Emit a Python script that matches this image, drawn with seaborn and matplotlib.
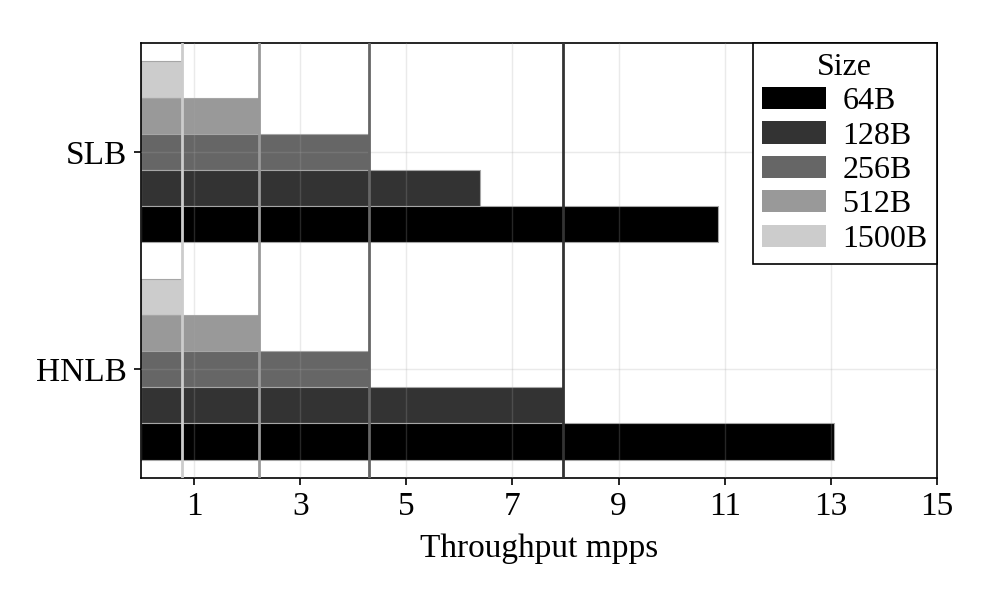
import matplotlib
matplotlib.use("Agg")
import matplotlib.pyplot as plt
import seaborn as sns
import pandas as pd
from matplotlib.patches import Patch

systems = ["SLB", "HNLB"]
sizes = ["64B", "128B", "256B", "512B", "1500B"]
slb_values = [10.88, 6.38, 4.30, 2.22, 0.78]
hnlb_values = [13.06, 7.95, 4.30, 2.22, 0.78]
ref_sizes = ["128B", "256B", "512B", "1500B"]
ref_values = [7.95, 4.29, 2.23, 0.78]
colors = ["#000000", "#333333", "#666666", "#999999", "#cccccc"]
xticks = [1, 3, 5, 7, 9, 11, 13, 15]

rows = []
for s, vals in zip(systems, [slb_values, hnlb_values]):
    for sz, v in zip(sizes, vals):
        rows.append({"System": s, "Size": sz, "Throughput": v})
df = pd.DataFrame(rows)

sns.set_theme(style="white")
plt.rcParams["font.family"] = ["Liberation Serif", "DejaVu Serif"]
plt.rcParams["font.size"] = 24
plt.rcParams["text.color"] = "black"
plt.rcParams["axes.labelcolor"] = "black"
plt.rcParams["xtick.color"] = "black"
plt.rcParams["ytick.color"] = "black"

FS = 24
palette = dict(zip(sizes, colors))
fig = plt.figure(figsize=(9.9, 6.0), dpi=100)
ax = fig.add_axes([141/990, 1-478/600, (937-141)/990, (478-43)/600])

hue_order = sizes[::-1]
sns.barplot(data=df, y="System", x="Throughput", hue="Size", order=systems,
            hue_order=hue_order, palette=palette, orient="h", width=0.83,
            edgecolor="0.65", linewidth=0.8, ax=ax, legend=False, saturation=1)

for sz, v in zip(ref_sizes, ref_values):
    ax.axvline(v, color=palette[sz], lw=2.0, zorder=3)

ax.set_xlim(0, 15)
ax.set_ylim(1.5, -0.5)
ax.set_xticks(xticks)
ax.set_xticklabels([str(t) for t in xticks], fontsize=FS, color="black")
ax.set_yticks([0, 1])
ax.set_yticklabels(systems, fontsize=FS, color="black")
ax.set_xlabel("Throughput mpps", fontsize=FS, labelpad=8, color="black")
ax.set_ylabel("")
ax.set_axisbelow(False)
ax.grid(True, color="0.65", alpha=0.23, lw=1)
ax.tick_params(axis="both", which="major", direction="out", length=5, width=1.2,
               color="black", labelcolor="black", bottom=True, left=True, pad=5)
for sp in ax.spines.values():
    sp.set_color("black")
    sp.set_linewidth(1.2)
    sp.set_visible(True)

handles = [Patch(facecolor=palette[s], edgecolor="none") for s in sizes]
leg = ax.legend(handles, sizes, title="Size", loc="upper right", fontsize=23,
                title_fontsize=23, frameon=True, fancybox=False, borderaxespad=0,
                handlelength=2.0, handleheight=0.7, labelspacing=0.16,
                borderpad=0.3, handletextpad=0.5)
leg.get_frame().set_edgecolor("black")
leg.get_frame().set_linewidth(1.2)
leg.get_frame().set_alpha(1)
for t in leg.get_texts():
    t.set_color("black")
leg.get_title().set_color("black")

fig.savefig("out.png", dpi=100)
